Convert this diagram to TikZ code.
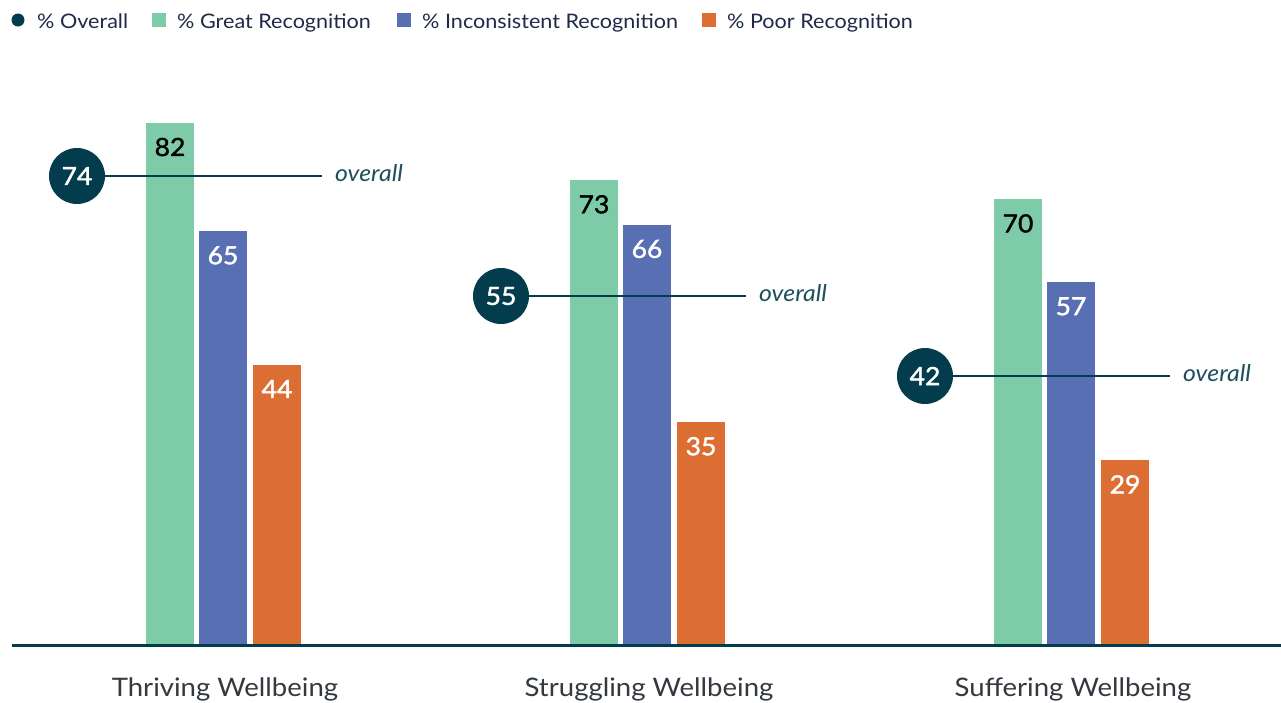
\documentclass[tikz,border=0pt]{standalone}
\usepackage{fontspec}
\setmainfont{Lato}[FakeStretch=1.08]
\newfontfamily\numfont{Lato}[FakeStretch=1.06,FakeBold=1.6]
\definecolor{cgreen}{HTML}{7ECBA8}
\definecolor{cblue}{HTML}{586FB3}
\definecolor{corange}{HTML}{DC6E33}
\definecolor{cteal}{HTML}{033D4D}
\definecolor{cnavy}{HTML}{1F2A48}
\definecolor{cgray}{HTML}{33393F}
\definecolor{covl}{HTML}{1E4F5E}
\tikzset{
  barval/.style={anchor=base,font=\fontsize{25}{25}\selectfont\numfont,inner sep=0pt},
  dotnode/.style={circle,fill=cteal,minimum size=56pt,inner sep=0pt,text=white,font=\fontsize{25}{25}\selectfont\numfont},
  ovtext/.style={anchor=base west,font=\fontsize{23}{23}\selectfont\itshape,text=covl,inner sep=0pt},
  ovline/.style={draw=cteal,line width=2.6pt},
  leg/.style={anchor=base west,font=\fontsize{20}{20}\selectfont,text=cnavy,inner sep=0pt},
  cat/.style={anchor=base,font=\fontsize{25.5}{26}\selectfont,text=cgray,inner sep=0pt},
}
\newcommand{\ppu}{6.366}
\newcommand{\onegroup}[7]{%
  % #1 x0, #2 green, #3 blue, #4 orange, #5 overall, #6 name, #7 overall y
  \fill[cgreen] (#1,645) rectangle ({#1+48},{645-\ppu*#2});
  \fill[cblue] ({#1+53},645) rectangle ({#1+101},{645-\ppu*#3});
  \fill[corange] ({#1+107},645) rectangle ({#1+155},{645-\ppu*#4});
  \node[barval,text=black] (#6g) at ({#1+24},{645-\ppu*#2+33}) {#2};
  \node[barval,text=white] (#6b) at ({#1+77},{645-\ppu*#3+33}) {#3};
  \node[barval,text=white] (#6o) at ({#1+131},{645-\ppu*#4+33}) {#4};
  \coordinate (#6e) at ({#1+176},#7);
  \node[dotnode] (#6c) at ({#1-69},#7) {#5};
  \draw[ovline] (#6c.east) -- (#6e);
  \node[ovtext] (#6t) at ({#1+189},{#7+5}) {overall};
}
\begin{document}
\begin{tikzpicture}[x=1pt,y=-1pt]
\useasboundingbox[fill=white] (0,0) rectangle (1281,702);
% legend
\node[circle,fill=cteal,minimum size=13pt,inner sep=0pt] (l1) at (18,20) {};
\node[leg] (l1t) at (37,28) {\% Overall};
\fill[cgreen] (152,13) rectangle (166,27);
\node[leg] (l2t) at (177,28) {\% Great Recognition};
\fill[cblue] (397,13) rectangle (411,27);
\node[leg] (l3t) at (422,28) {\% Inconsistent Recognition};
\fill[corange] (702,13) rectangle (716,27);
\node[leg] (l4t) at (727,28) {\% Poor Recognition};
% groups
\onegroup{146}{82}{65}{44}{74}{a}{176}
\onegroup{570}{73}{66}{35}{55}{b}{296}
\onegroup{994}{70}{57}{29}{42}{c}{376}
% baseline
\draw[draw=cteal,line width=2.6pt] (12,645.5) -- (1281,645.5);
% categories
\node[cat] (ca) at (225,696) {Thriving Wellbeing};
\node[cat] (cb) at (649,696) {Struggling Wellbeing};
\node[cat] (cc) at (1073,696) {Suffering Wellbeing};
\end{tikzpicture}
\end{document}
